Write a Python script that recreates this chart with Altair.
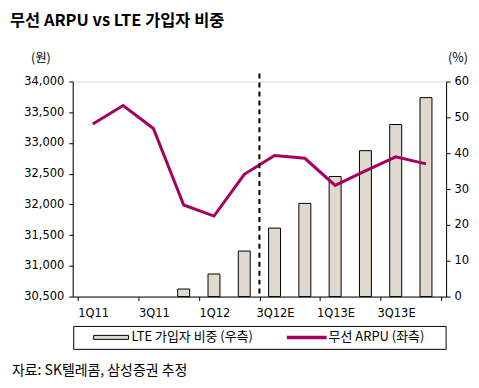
import altair as alt
import pandas as pd

quarters = ["1Q11", "2Q11", "3Q11", "4Q11", "1Q12", "2Q12",
            "3Q12E", "4Q12E", "1Q13E", "2Q13E", "3Q13E", "4Q13E"]
arpu = [33310, 33610, 33235, 31990, 31810, 32490,
        32795, 32750, 32310, 32545, 32775, 32660]
lte_share = [None, None, None, 2.1, 6.3, 12.7, 19.1, 26.0, 33.5, 40.7, 48.0, 55.5]
estimate_start = 6  # boundary between 2Q12 and 3Q12E

df = pd.DataFrame({
    "idx": [i + 0.5 for i in range(len(quarters))],
    "q": quarters,
    "arpu": arpu,
    "lte": lte_share,
})

KR = "Noto Sans CJK KR"
NUM = "DejaVu Sans"
LINE_COLOR = "#A6005F"
BAR_COLOR = "#DFD9D0"

label_expr = ("datum.value < 12 ? " + str(quarters) + "[datum.value] : ''")

xenc = alt.X("idx:Q", scale=alt.Scale(domain=[0, 12], nice=False, zero=False),
             axis=alt.Axis(values=list(range(0, 13, 2)), labelExpr=label_expr,
                           labelOffset=15.6, labelAlign="center", grid=False,
                           tickSize=4, tickColor="black", domainColor="black",
                           labelFont=NUM, labelFontSize=11.5, labelColor="black",
                           labelPadding=7, title=None))

bars = alt.Chart(df).mark_bar(size=12, color=BAR_COLOR, stroke="black",
                              strokeWidth=1).encode(
    x=xenc,
    y=alt.Y("lte:Q", scale=alt.Scale(domain=[0, 60], nice=False),
            axis=alt.Axis(orient="right", values=list(range(0, 61, 10)),
                          grid=False, tickSize=4, tickColor="black",
                          domainColor="black", labelFont=NUM,
                          labelFontSize=11.5, labelColor="black",
                          labelPadding=4, title=None)),
)

line = alt.Chart(df).mark_line(color=LINE_COLOR, strokeWidth=3).encode(
    x=alt.X("idx:Q"),
    y=alt.Y("arpu:Q", scale=alt.Scale(domain=[30500, 34000], nice=False, zero=False),
            axis=alt.Axis(orient="left", values=list(range(30500, 34001, 500)),
                          format=",d", grid=False, tickSize=4, tickColor="black",
                          domainColor="black", labelFont=NUM,
                          labelFontSize=11.5, labelColor="black",
                          labelPadding=5, title=None)),
)

vline = alt.Chart(pd.DataFrame({"x": [estimate_start]})).mark_rule(
    color="black", strokeWidth=2, strokeDash=[5, 4]).encode(
    x=alt.X("x:Q"), y=alt.value(-8), y2=alt.value(216))

def txt(s, x, y, size=12, weight="normal", align="left", font=KR):
    return alt.Chart(pd.DataFrame({"t": [s]})).mark_text(
        font=font, fontSize=size, fontWeight=weight, align=align,
        baseline="middle", color="black").encode(
        text="t:N", x=alt.value(x), y=alt.value(y))

title = txt("무선 ARPU vs LTE 가입자 비중", -63, -61, size=16.5, weight="bold")
unit_l = txt("(원)", -32, -24, size=12.5, align="center")
unit_r = txt("(%)", 387, -24, size=12.5, align="center")
source = txt("자료: SK텔레콤, 삼성증권 추정", -61, 291, size=14)

one = pd.DataFrame({"a": [0]})
legend_box = alt.Chart(one).mark_rect(fill="white", stroke="black",
                                      strokeWidth=1).encode(
    x=alt.value(1), x2=alt.value(375), y=alt.value(246), y2=alt.value(269))
legend_bar = alt.Chart(one).mark_rect(fill=BAR_COLOR, stroke="black",
                                      strokeWidth=1).encode(
    x=alt.value(21), x2=alt.value(56), y=alt.value(255), y2=alt.value(259))
legend_line = alt.Chart(one).mark_rule(color=LINE_COLOR, strokeWidth=3.5).encode(
    x=alt.value(215), x2=alt.value(255), y=alt.value(257))
legend_t1 = txt("LTE 가입자 비중 (우측)", 59, 257, size=13)
legend_t2 = txt("무선 ARPU (좌측)", 257, 257, size=13)

chart = alt.layer(
    bars, line, vline, title, unit_l, unit_r, source,
    legend_box, legend_bar, legend_line, legend_t1, legend_t2,
).resolve_scale(y="independent").properties(
    width=375, height=216,
    autosize=alt.AutoSizeParams(type="none"),
    padding={"left": 65, "top": 73, "right": 25, "bottom": 90},
).configure_view(stroke=None).configure(background="white")

chart.save("out.html", embed_options={"renderer": "svg", "actions": False})
